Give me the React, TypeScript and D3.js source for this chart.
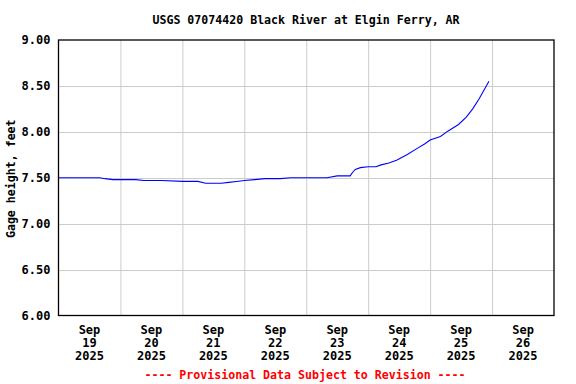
import React from 'react';
import * as d3 from 'd3';

// gage readings, hours since Sep 19 2025 00:00
const hours = [0, 6, 12, 16, 18, 21, 24, 30, 33, 40, 48, 54, 57, 60, 63, 66, 69, 72, 76, 80, 86, 90, 96, 104, 108, 113, 114, 115, 117, 120, 123, 125, 128, 131, 135, 139, 142, 144, 148, 151, 155, 158, 160.5, 163, 165, 166.8];
const stage = [7.5, 7.5, 7.5, 7.5, 7.49, 7.48, 7.48, 7.48, 7.47, 7.47, 7.46, 7.46, 7.44, 7.44, 7.44, 7.45, 7.46, 7.47, 7.48, 7.49, 7.49, 7.5, 7.5, 7.5, 7.52, 7.52, 7.56, 7.59, 7.61, 7.62, 7.62, 7.64, 7.66, 7.69, 7.75, 7.82, 7.87, 7.91, 7.95, 8.01, 8.08, 8.16, 8.25, 8.36, 8.46, 8.55];

const dayLabels = ['19', '20', '21', '22', '23', '24', '25', '26'];
const yTicks = [6.0, 6.5, 7.0, 7.5, 8.0, 8.5, 9.0];

const FONT = '"DejaVu Sans Mono", monospace';

export default function App() {
  const margin = { top: 40, right: 22, bottom: 68.5, left: 58.5 };
  const width = 576;
  const height = 384;
  const innerW = width - margin.left - margin.right;
  const innerH = height - margin.top - margin.bottom;

  const x = d3.scaleLinear().domain([0, dayLabels.length * 24]).range([0, innerW]);
  const y = d3.scaleLinear().domain([6, 9]).range([innerH, 0]);

  const line = d3.line<number>()
    .x((_, i) => x(hours[i]))
    .y(d => y(d));

  return (
    <svg width={width} height={height} style={{ position: 'absolute', left: 0, top: 0, background: '#fff' }}>
      <text x={306} y={24} textAnchor="middle" fontFamily={FONT} fontWeight="bold" fontSize={11.6} fill="#000">
        USGS 07074420 Black River at Elgin Ferry, AR
      </text>
      <g transform={`translate(${margin.left},${margin.top})`}>
        {yTicks.slice(1, -1).map(t => (
          <line key={'h' + t} x1={0} x2={innerW} y1={Math.round(y(t)) + 0.5} y2={Math.round(y(t)) + 0.5} stroke="#cccccc" />
        ))}
        {dayLabels.slice(1).map((d, i) => (
          <line key={'v' + d} x1={x((i + 1) * 24) + 0.5} x2={x((i + 1) * 24) + 0.5} y1={0} y2={innerH} stroke="#cccccc" />
        ))}
        <path d={line(stage) || ''} fill="none" stroke="#0000ff" strokeWidth={1.1} />
        <rect x={0} y={0} width={innerW} height={innerH} fill="none" stroke="#000" strokeWidth={1.3} />
        {yTicks.map(t => (
          <text key={'yl' + t} x={-8} y={y(t) + 4} textAnchor="end" fontFamily={FONT} fontWeight="bold" fontSize={12} fill="#000">
            {t.toFixed(2)}
          </text>
        ))}
        {dayLabels.map((d, i) => {
          const cx = x(i * 24 + 12);
          return (
            <text key={'xl' + d} x={cx} textAnchor="middle" fontFamily={FONT} fontWeight="bold" fontSize={12} fill="#000">
              <tspan x={cx} y={innerH + 18.5}>Sep</tspan>
              <tspan x={cx} y={innerH + 31}>{d}</tspan>
              <tspan x={cx} y={innerH + 44.5}>2025</tspan>
            </text>
          );
        })}
      </g>
      <text transform={`translate(15,${margin.top + innerH / 2 + 1}) rotate(-90)`} textAnchor="middle" fontFamily={FONT} fontWeight="bold" fontSize={11.6} fill="#000">
        Gage height, feet
      </text>
      <text x={305} y={379} textAnchor="middle" fontFamily={FONT} fontWeight="bold" fontSize={11.6} fill="#ff0000">
        ---- Provisional Data Subject to Revision ----
      </text>
    </svg>
  );
}
